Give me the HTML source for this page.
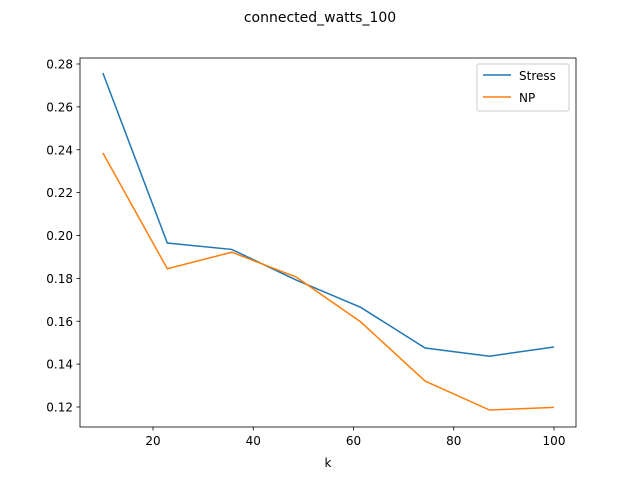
<!DOCTYPE html>
<html><head><meta charset="utf-8"><style>body{margin:0;background:#fff}svg{display:block;font-family:"DejaVu Sans","Liberation Sans",sans-serif}</style></head>
<body>
<svg id="chart" width="640" height="480">
<rect width="640" height="480" fill="#fff"/>
<text x="320" y="22" text-anchor="middle" font-size="14">connected_watts_100</text>
<g id="axes"></g>
<g id="lines"></g>
<rect x="80" y="58" width="496" height="369" fill="none" stroke="#000" stroke-width="0.8"/>
<g>
<rect x="477" y="64" width="92" height="47" fill="#fff" stroke="#ccc" rx="2"/>
<line x1="483" y1="75" x2="511" y2="75" stroke="#1f77b4" stroke-width="1.5"/>
<text x="519" y="80" font-size="12">Stress</text>
<line x1="483" y1="97" x2="511" y2="97" stroke="#ff7f0e" stroke-width="1.5"/>
<text x="519" y="102" font-size="12">NP</text>
</g>
<text x="328" y="467" text-anchor="middle" font-size="12">k</text>
</svg>
<script>
const kValues=[10,22.857,35.714,48.571,61.429,74.286,87.143,100];
const stressValues=[0.2758,0.1965,0.1935,0.1792,0.1665,0.1475,0.1437,0.148];
const npValues=[0.2385,0.1845,0.1922,0.1806,0.1597,0.1321,0.1186,0.1198];
const xTicks=[20,40,60,80,100];
const yTicks=[0.12,0.14,0.16,0.18,0.20,0.22,0.24,0.26,0.28];
const NS='http://www.w3.org/2000/svg';
function xs(v){return 153+(v-20)*(401/80);}
function ys(v){return 407-(v-0.12)*(343/0.16);}
const ax=document.getElementById('axes');
function mk(t,a,p){const e=document.createElementNS(NS,t);for(const k in a)e.setAttribute(k,a[k]);p.appendChild(e);return e;}
xTicks.forEach(t=>{
 const l=mk('line',{x1:xs(t),x2:xs(t),y1:427,y2:430.5,stroke:'#000','stroke-width':0.8},ax);
 
 
 const tx=mk('text',{x:xs(t),y:445,'text-anchor':'middle','font-size':12},ax);tx.textContent=t;
 
 
});
yTicks.forEach(t=>{
 const l=mk('line',{x1:76.5,x2:80,y1:ys(t),y2:ys(t),stroke:'#000','stroke-width':0.8},ax);
 
 
 const tx=mk('text',{x:73,y:ys(t)+4.5,'text-anchor':'end','font-size':12},ax);tx.textContent=t.toFixed(2);
 
 
});
const lg=document.getElementById('lines');
[[stressValues,'#1f77b4','stress-line'],[npValues,'#ff7f0e','np-line']].forEach(([vals,c,n])=>{
 const p=mk('polyline',{points:vals.map((v,i)=>xs(kValues[i])+','+ys(v)).join(' '),fill:'none',stroke:c,'stroke-width':1.5},lg);
 
 
});
</script>
</body></html>
